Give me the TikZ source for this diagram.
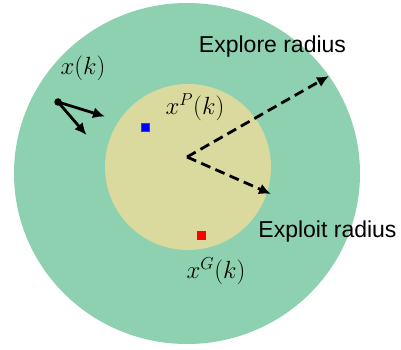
\documentclass[tikz,border=0pt]{standalone}
\usepackage{fontspec}
\newfontfamily\arialfont{Liberation Sans}
\usetikzlibrary{arrows.meta}
\definecolor{outergreen}{RGB}{142,209,176}
\definecolor{innerkhaki}{RGB}{218,217,158}
\tikzset{
  radarrow/.style={line width=2.8pt, dashed, dash pattern=on 10pt off 5.5pt, -{Latex[length=12pt,width=11pt]}},
  movearrow/.style={line width=2.8pt, -{Latex[length=12pt,width=11pt]}},
  txtlabel/.style={font=\arialfont\fontsize{23}{26}\selectfont, inner sep=0pt},
  mathlabel/.style={font=\fontsize{23.5}{26}\selectfont, inner sep=0pt},
  sq/.style={draw=black!70, line width=0.6pt, minimum size=8pt, inner sep=0pt}
}
\begin{document}
\begin{tikzpicture}[x=1pt,y=-1pt]
\useasboundingbox (0,0) rectangle (401,350);
\fill[outergreen] (187,173.5) ellipse [x radius=173, y radius=170.5];
\fill[innerkhaki] (188,167) circle [radius=83];
% radius arrows
\coordinate (o) at (187,157);
\coordinate (exptip) at (329,76);
\coordinate (exltip) at (271,194);
\draw[radarrow] (o) -- (exptip);
\draw[radarrow] (o) -- (exltip);
\node[txtlabel, anchor=base] (explore) at (272.5,53) {Explore radius};
\node[txtlabel, anchor=base] (exploit) at (327.5,237) {Exploit radius};
% particle
\node[circle, fill=black, minimum size=7.5pt, inner sep=0pt] (dot) at (58,102) {};
\coordinate (t1) at (105,116.5);
\coordinate (t2) at (86.5,135);
\draw[movearrow] (dot.center) -- (t1);
\draw[movearrow] (dot.center) -- (t2);
\node[mathlabel] (xk) at (83,68) {$x(k)$};
\node[mathlabel] (xp) at (195,107) {$x^P(k)$};
\node[mathlabel] (xg) at (216,271) {$x^G(k)$};
\node[sq, fill=blue] (pbest) at (145,127.5) {};
\node[sq, fill=red] (gbest) at (201.5,235) {};
\end{tikzpicture}
\end{document}
